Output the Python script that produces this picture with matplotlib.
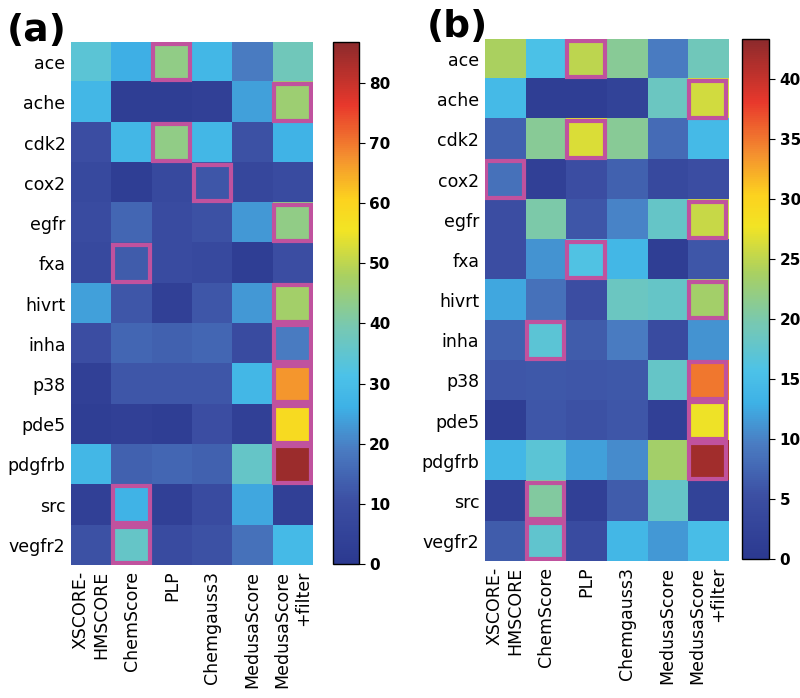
import numpy as np
import matplotlib
matplotlib.use("Agg")
import matplotlib.pyplot as plt
from matplotlib.colors import LinearSegmentedColormap
from matplotlib.patches import Rectangle

targets = ["ace", "ache", "cdk2", "cox2", "egfr", "fxa", "hivrt",
           "inha", "p38", "pde5", "pdgfrb", "src", "vegfr2"]
methods = ["XSCORE-\nHMSCORE", "ChemScore", "PLP", "Chemgauss3",
           "MedusaScore", "MedusaScore\n+filter"]

# panel (a) values, one row per target
values_a = [
    [34, 26, 44, 28, 19, 38],
    [28, 3, 3, 4, 24, 46],
    [10, 28, 44, 28, 11, 27],
    [8, 3, 8, 12, 7, 9],
    [9, 15, 9, 11, 23, 44],
    [8, 13, 9, 8, 3, 10],
    [24, 12, 4, 12, 23, 47],
    [10, 15, 14, 15, 9, 19],
    [4, 12, 12, 12, 28, 67],
    [3, 4, 3, 10, 4, 58],
    [28, 14, 15, 14, 36, 85],
    [4, 27, 4, 9, 25, 4],
    [11, 36, 9, 11, 17, 29],
]

# panel (b) values
values_b = [
    [24, 15.5, 25, 21, 9.5, 19],
    [14.5, 1.5, 1.5, 2.5, 18.5, 26],
    [7, 21, 26.5, 21, 8, 14.5],
    [8.5, 2, 5, 7, 4, 5],
    [5, 20, 6, 10, 18, 25.5],
    [5, 11, 16, 14, 1.5, 6],
    [12.5, 8.5, 5, 18.5, 18, 23.5],
    [7, 17, 6.5, 9.5, 4.5, 11],
    [6, 6.2, 6, 6.1, 18, 35],
    [1.5, 6, 5.5, 6, 2, 27.5],
    [14, 17, 12, 10.5, 23.5, 42],
    [2, 20.5, 2, 6.5, 18, 2.5],
    [6.5, 17.5, 4.5, 14, 11.5, 15],
]

vmax_a = 86.8
vmax_b = 43.3
ticks_a = [0, 10, 20, 30, 40, 50, 60, 70, 80]
ticks_b = [0, 5, 10, 15, 20, 25, 30, 35, 40]

cmap = LinearSegmentedColormap.from_list("softjet", [
    (0.00, "#2b3990"),
    (0.12, "#3c4fa3"),
    (0.22, "#4a7cc2"),
    (0.30, "#3eb1e6"),
    (0.36, "#4cc2e8"),
    (0.45, "#76c8b4"),
    (0.55, "#a8d062"),
    (0.64, "#f2e424"),
    (0.70, "#fcd21f"),
    (0.78, "#f4902f"),
    (0.88, "#e8382c"),
    (1.00, "#8c2a2c"),
])


def draw_panel(fig, rect, cbar_rect, data, vmax, ticks, letter, letter_xy):
    data = np.asarray(data, dtype=float)
    ax = fig.add_axes(rect)
    im = ax.imshow(data, cmap=cmap, vmin=0, vmax=vmax, aspect="auto",
                   interpolation="nearest")
    ax.set_yticks(np.arange(len(targets)))
    ax.set_yticklabels(targets, fontsize=12.5)
    ax.set_xticks(np.arange(len(methods)))
    ax.set_xticklabels(methods, rotation=90, fontsize=12.5, ha="center",
                       va="top", multialignment="right")
    ax.tick_params(length=0, pad=4)
    for s in ax.spines.values():
        s.set_visible(False)

    # highlight best method per target
    best = data.argmax(axis=1)
    for i, j in enumerate(best):
        ax.add_patch(Rectangle((j - 0.46, i - 0.455), 0.92, 0.91, fill=False,
                               edgecolor="#c0529e", lw=3, zorder=3))

    cax = fig.add_axes(cbar_rect)
    cb = fig.colorbar(im, cax=cax, ticks=ticks)
    cb.ax.tick_params(labelsize=11, length=4)
    for t in cb.ax.get_yticklabels():
        t.set_fontweight("bold")
    cb.outline.set_linewidth(1)

    fig.text(letter_xy[0], letter_xy[1], letter, fontsize=27,
             fontweight="bold", ha="left", va="center")


fig = plt.figure(figsize=(8, 6.98), dpi=100)

draw_panel(fig, [0.0888, 0.1905, 0.3025, 0.7493],
           [0.416, 0.192, 0.0325, 0.748],
           values_a, vmax_a, ticks_a, "(a)", (0.008, 0.955))
draw_panel(fig, [0.606, 0.196, 0.304, 0.748],
           [0.9275, 0.199, 0.034, 0.745],
           values_b, vmax_b, ticks_b, "(b)", (0.533, 0.962))

fig.savefig("out.png", dpi=100)
